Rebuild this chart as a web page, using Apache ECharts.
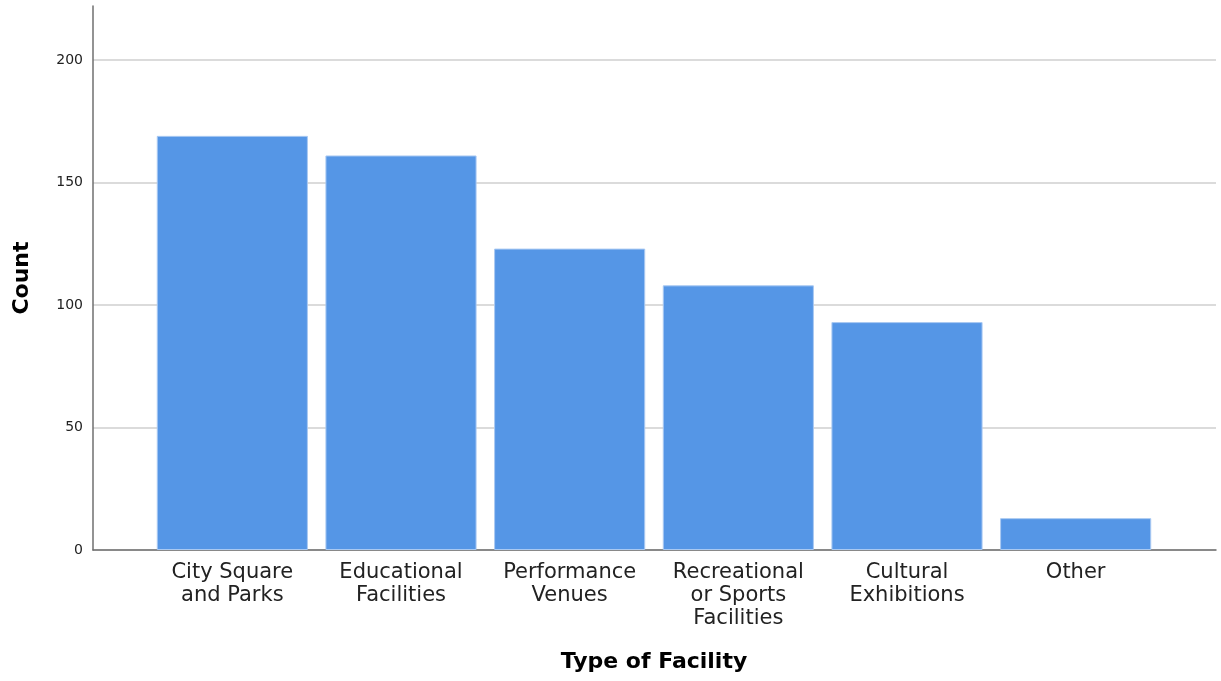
<!DOCTYPE html>
<html>
<head>
<meta charset="utf-8">
<script src="https://cdn.jsdelivr.net/npm/echarts@6/dist/echarts.min.js"></script>
<style>
  html, body { margin: 0; padding: 0; background: #fff; }
  #chart { width: 1221px; height: 681px; }
</style>
</head>
<body>
<div id="chart"></div>
<script>
const categories = [
  'City Square\nand Parks',
  'Educational\nFacilities',
  'Performance\nVenues',
  'Recreational\nor Sports\nFacilities',
  'Cultural\nExhibitions',
  'Other'
]
const counts = [169, 161, 123, 108, 93, 13]
const yTicks = [0, 50, 100, 150, 200]
const yAxisTop = 222 // the axis line runs a bit past the last tick

const chart = echarts.init(document.getElementById('chart'), null, { renderer: 'canvas' })

const font = 'DejaVu Sans'
const pxPerUnit = (681 - 131 - 6) / yAxisTop
const tickTop = 681 - 131 - yTicks[yTicks.length - 1] * pxPerUnit

const option = {
  backgroundColor: '#ffffff',
  animation: false,
  grid: [
    // frame: x and y axis lines over the full height
    { left: 93, right: 5, top: 6, bottom: 131 },
    // gridlines + tick labels, top at the last tick
    { left: 93, right: 5, top: tickTop, bottom: 131 },
    // bars, padded at both ends like SPSS does
    { left: 148, right: 61, top: 6, bottom: 131 }
  ],
  xAxis: [{
    gridIndex: 0,
    type: 'value',
    min: 0,
    max: 1,
    axisLine: { show: true, lineStyle: { color: '#6f6f6f', width: 1.5 } },
    axisTick: { show: false },
    axisLabel: { show: false },
    splitLine: { show: false }
  }, {
    gridIndex: 1,
    type: 'value',
    min: 0,
    max: 1,
    show: false
  }, {
    gridIndex: 2,
    type: 'category',
    data: categories,
    axisLine: { show: false },
    axisTick: { show: false },
    axisLabel: {
      margin: 11,
      color: '#222',
      fontFamily: font,
      fontSize: 21,
      lineHeight: 23,
      interval: 0
    },
    name: 'Type of Facility',
    nameLocation: 'middle',
    nameGap: 101,
    nameTextStyle: { fontFamily: font, fontSize: 22, fontWeight: 'bold', color: '#000' }
  }],
  yAxis: [{
    gridIndex: 0,
    type: 'value',
    min: 0,
    max: yAxisTop,
    axisLine: { show: true, lineStyle: { color: '#6f6f6f', width: 1.5 } },
    axisTick: { show: false },
    axisLabel: { show: false },
    splitLine: { show: false },
    name: 'Count',
    nameLocation: 'middle',
    nameGap: 60,
    nameTextStyle: { fontFamily: font, fontSize: 22, fontWeight: 'bold', color: '#000' }
  }, {
    gridIndex: 1,
    type: 'value',
    min: yTicks[0],
    max: yTicks[yTicks.length - 1],
    interval: yTicks[1] - yTicks[0],
    axisLine: { show: false },
    axisTick: { show: false },
    axisLabel: { margin: 10, color: '#222', fontFamily: font, fontSize: 14 },
    splitLine: { show: true, lineStyle: { color: '#cfcfcf', width: 1.5 } },
    z: 0
  }, {
    gridIndex: 2,
    type: 'value',
    min: 0,
    max: yAxisTop,
    show: false,
    splitLine: { show: false }
  }],
  series: [{
    type: 'bar',
    xAxisIndex: 2,
    yAxisIndex: 2,
    data: counts,
    barCategoryGap: '10.4%',
    itemStyle: { color: '#5596e6', borderColor: '#a9c9f2', borderWidth: 1 }
  }]
}

chart.setOption(option)
</script>
</body>
</html>
